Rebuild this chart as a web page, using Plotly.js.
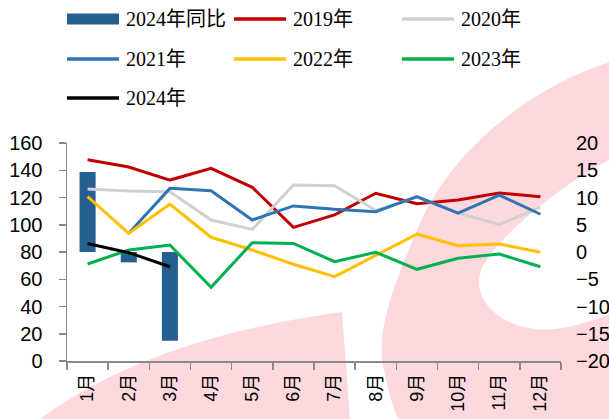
<!DOCTYPE html>
<html>
<head>
<meta charset="utf-8">
<script src="https://cdn.plot.ly/plotly-3.0.1.min.js"></script>
<style>html,body{margin:0;padding:0;background:#fff;}#chart{width:609px;height:419px;}</style>
</head>
<body>
<div id="chart"></div>
<script>
// ---- data ----
var months = ['1月','2月','3月','4月','5月','6月','7月','8月','9月','10月','11月','12月'];
var yoy2024 = [14.7, -1.9, -16.3, null, null, null, null, null, null, null, null, null];
var y2019 = [147.7, 142.4, 132.8, 141.4, 127.5, 98.1, 107.2, 123.1, 115.5, 118.2, 123.3, 120.6];
var y2020 = [126.2, 124.8, 124.3, 103.5, 96.6, 129.2, 128.7, 110.5, 120.3, 108.6, 100.2, 113.0];
var y2021 = [null, 93.7, 126.7, 125.0, 103.5, 113.8, 111.3, 109.6, 120.6, 108.6, 121.8, 107.7];
var y2022 = [120.6, 93.7, 115.2, 90.8, 81.5, 71.0, 61.9, 77.8, 93.1, 84.6, 85.9, 79.8];
var y2023 = [71.2, 81.5, 85.1, 54.1, 86.8, 86.3, 72.9, 79.8, 67.3, 75.4, 78.5, 69.2];
var y2024 = [86.3, 79.5, 69.2, null, null, null, null, null, null, null, null, null];
var barName = '2024年同比';
var lineNames = ['2019年','2020年','2021年','2022年','2023年','2024年'];
var lineData = [y2019, y2020, y2021, y2022, y2023, y2024];
var lineColors = ['#C00000','#D0D0D0','#2E75B6','#FFC000','#00B050','#000000'];
var barColor = '#255E91';

// ---- traces ----
var traces = [{
  type: 'bar', name: barName, x: months, y: yoy2024, yaxis: 'y',
  marker: {color: barColor}, showlegend: false, hoverinfo: 'x+y'
}];
lineData.forEach(function(d, i){
  traces.push({
    type: 'scatter', mode: 'lines', name: lineNames[i], x: months, y: d, yaxis: 'y2',
    line: {color: lineColors[i], width: 3}, showlegend: false, connectgaps: false
  });
});

// ---- background watermark (decorative) ----
var pink = '#FDD9DD';
var shapes = [
  {type:'path', xref:'paper', yref:'paper', layer:'below', line:{width:0}, fillcolor:pink,
   path:''},
];
// helper to convert pixel coords to paper coords
var W = 609, H = 419, ML = 67, MR = 48, MT = 143, MB = 58;
var PW = W - ML - MR, PH = H - MT - MB;
function px(x){ return ((x - ML) / PW).toFixed(4); }
function py(y){ return ((H - MB - y) / PH).toFixed(4); }
function pt(x, y){ return px(x) + ',' + py(y); }
shapes = [
  {type:'path', xref:'paper', yref:'paper', layer:'below', line:{width:0}, fillcolor:pink,
   path: 'M' + pt(40,419) + ' Q' + pt(150,338) + ' ' + pt(342,312) + ' L' + pt(350,419) + ' Z'},
  {type:'path', xref:'paper', yref:'paper', layer:'below', line:{width:0}, fillcolor:pink,
   path: 'M' + pt(609,62) + ' C' + pt(530,88) + ' ' + pt(450,150) + ' ' + pt(418,228) +
         ' C' + pt(398,275) + ' ' + pt(374,330) + ' ' + pt(384,370) +
         ' C' + pt(389,395) + ' ' + pt(394,410) + ' ' + pt(398,419) +
         ' L' + pt(609,419) + ' Z'},
  {type:'path', xref:'paper', yref:'paper', layer:'below', line:{width:0}, fillcolor:'#ffffff',
   path: 'M' + pt(609,160) + ' C' + pt(570,180) + ' ' + pt(500,232) + ' ' + pt(482,268) +
         ' C' + pt(468,300) + ' ' + pt(505,334) + ' ' + pt(555,329) +
         ' C' + pt(580,326) + ' ' + pt(598,318) + ' ' + pt(609,314) + ' Z'}
];

// ---- manual legend ----
var annotations = [];
var legItems = [{name: barName, color: barColor, bar: true}];
lineNames.forEach(function(n, i){ legItems.push({name: n, color: lineColors[i], bar: false}); });
var colX = [67, 234, 402], rowY = [19, 59, 98], swLen = 52;
legItems.forEach(function(it, k){
  var c = k % 3, r = Math.floor(k / 3);
  var x0 = colX[c], y = rowY[r];
  if (it.bar) {
    shapes.push({type:'rect', xref:'paper', yref:'paper', line:{width:0}, fillcolor: it.color,
      x0: px(x0), x1: px(x0 + swLen), y0: py(y + 5.5), y1: py(y - 5.5)});
  } else {
    shapes.push({type:'line', xref:'paper', yref:'paper', line:{width:3.5, color: it.color},
      x0: px(x0), x1: px(x0 + swLen), y0: py(y), y1: py(y)});
  }
  annotations.push({xref:'paper', yref:'paper', x: px(x0 + swLen + 5), y: py(y), xanchor:'left', yanchor:'middle',
    showarrow:false, text: it.name,
    font:{family:'"Liberation Serif", "Noto Sans CJK SC", serif', size:20, color:'#000'}});
});

var tickFont = {family:'"Liberation Sans", Arial, sans-serif', size:20, color:'#000'};
var layout = {
  width: W, height: H,
  margin: {l: ML, r: MR, t: MT, b: MB, pad: 0},
  paper_bgcolor: '#fff', plot_bgcolor: 'rgba(0,0,0,0)',
  showlegend: false,
  bargap: 0.61,
  xaxis: {
    type:'category', showgrid:false, zeroline:false,
    showline:true, linecolor:'#898989', linewidth:1.5,
    ticks:'outside', ticklen:7, tickcolor:'#898989', tickwidth:1.5, tickson:'boundaries',
    tickangle:-90, ticklabelstandoff: 4,
    tickfont:{family:'"Liberation Sans", "Noto Sans CJK SC", sans-serif', size:18, color:'#000'},
    range:[-0.5, 11.5]
  },
  yaxis: {
    side:'right', range:[-20, 20], dtick:5, showgrid:false, zeroline:false, showline:false,
    ticks:'', tickfont: tickFont, ticklabelstandoff: 14, fixedrange:true
  },
  yaxis2: {
    overlaying:'y', side:'left', range:[0, 160], dtick:20, showgrid:false, zeroline:false,
    showline:true, linecolor:'#898989', linewidth:1.5,
    ticks:'outside', ticklen:7, tickcolor:'#898989', tickwidth:1.5,
    tickfont: tickFont, ticklabelstandoff: 12
  },
  shapes: shapes,
  annotations: annotations
};
Plotly.newPlot('chart', traces, layout, {displayModeBar:false, staticPlot:true});
</script>
</body>
</html>
